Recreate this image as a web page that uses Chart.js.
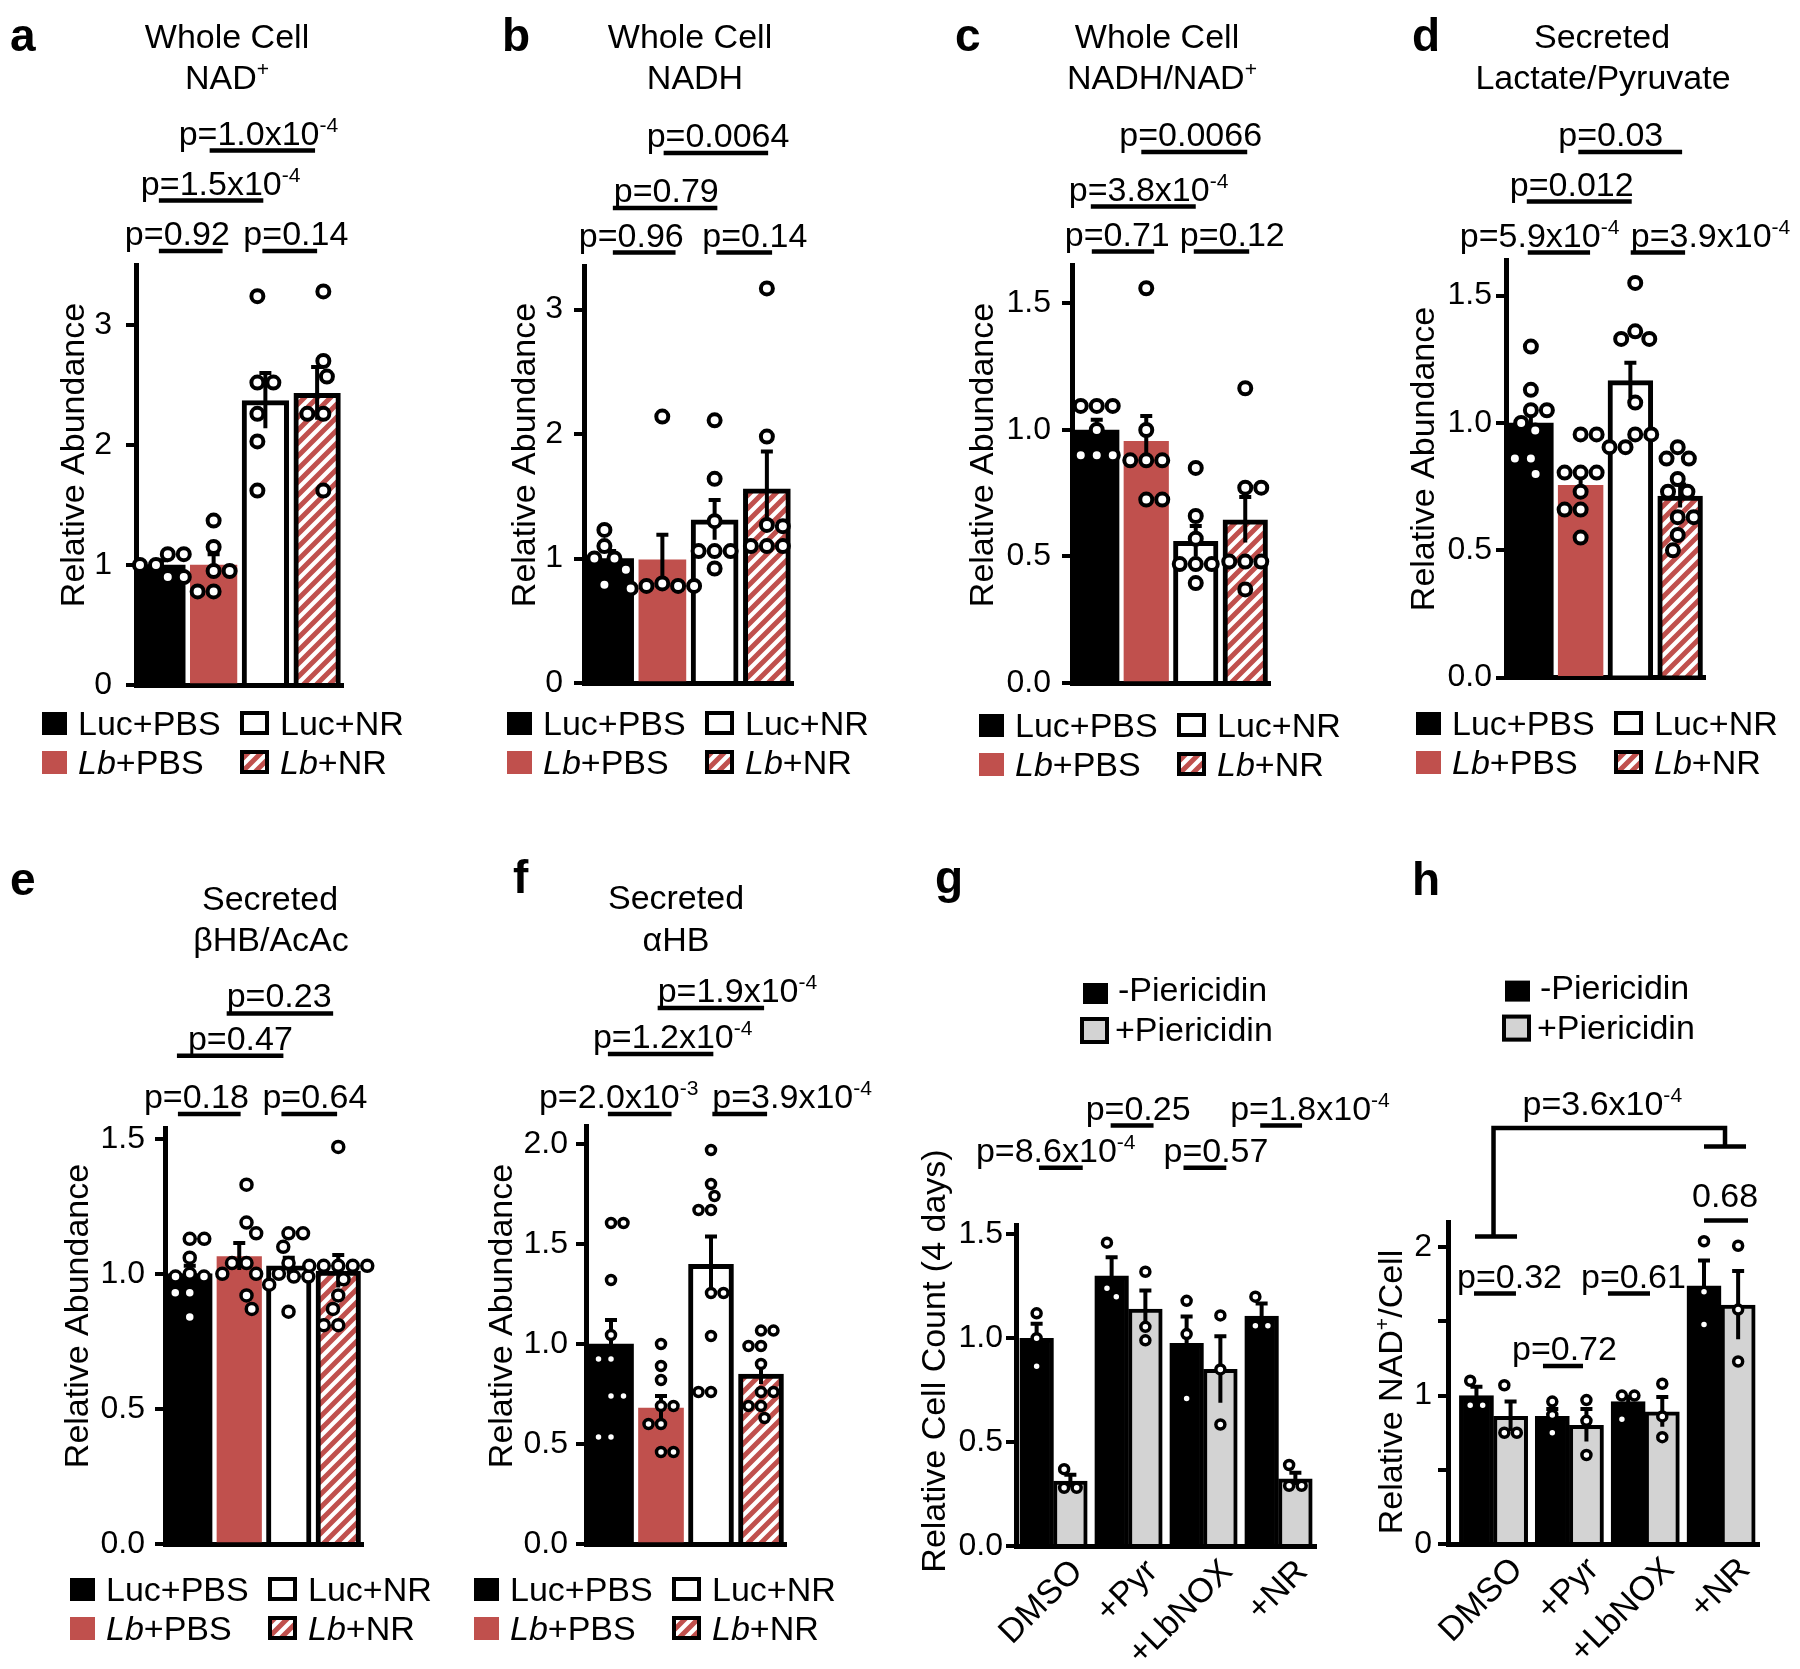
<!DOCTYPE html>
<html>
<head>
<meta charset="utf-8">
<script src="https://cdn.jsdelivr.net/npm/chart.js@4.4.1/dist/chart.umd.min.js"></script>
<style>
  html, body { margin: 0; padding: 0; background: #fff; }
  body { position: relative; width: 1800px; height: 1669px; overflow: hidden; }
  canvas { position: absolute; }
</style>
</head>
<body>
<canvas id="pa"></canvas>
<canvas id="pb"></canvas>
<canvas id="pc"></canvas>
<canvas id="pd"></canvas>
<canvas id="pe"></canvas>
<canvas id="pf"></canvas>
<canvas id="pg"></canvas>
<canvas id="ph"></canvas>
<script>
const FONT = '"Liberation Sans", Arial, Helvetica, sans-serif';
Chart.defaults.font.family = FONT;
Chart.defaults.font.size = 32;
Chart.defaults.color = '#000';

const RED = '#C0504D';
const GREY = '#D3D3D3';

// ---- data ----
const groups = ['Luc+PBS', '*Lb*+PBS', 'Luc+NR', '*Lb*+NR'];
const drugs = ['DMSO', '+Pyr', '+LbNOX', '+NR'];
const pierLabels = ['-Piericidin', '+Piericidin'];

// a: whole cell NAD+
const nadMean = [1.0, 1.0, 2.37, 2.43];
const nadSem = [0.04, 0.09, 0.23, 0.22];
const nadPts = [
  [1.09, 1.09, 1.0, 1.0, 0.9, 0.9],
  [1.37, 1.15, 0.95, 0.95, 0.78, 0.78],
  [3.24, 2.52, 2.52, 2.26, 2.03, 1.62],
  [3.28, 2.70, 2.57, 2.26, 2.26, 1.62]
];
const nadP = ['p=1.0x10^{-4}', 'p=1.5x10^{-4}', 'p=0.92', 'p=0.14'];

// b: whole cell NADH
const nadhMean = [1.0, 0.99, 1.31, 1.56];
const nadhSem = [0.06, 0.2, 0.16, 0.3];
const nadhPts = [
  [1.23, 1.1, 1.0, 1.0, 0.91, 0.79],
  [2.14, 0.8, 0.78, 0.78, 0.78, 0.76],
  [2.11, 1.64, 1.3, 1.06, 1.06, 1.06, 0.92],
  [3.17, 1.98, 1.27, 1.26, 1.1, 1.1, 1.1]
];
const nadhP = ['p=0.0064', 'p=0.79', 'p=0.96', 'p=0.14'];

// c: whole cell NADH/NAD+
const ratioMean = [1.0, 0.955, 0.56, 0.645];
const ratioSem = [0.04, 0.1, 0.06, 0.09];
const ratioPts = [
  [1.095, 1.095, 1.095, 1.0, 0.9, 0.9, 0.9],
  [1.56, 1.0, 0.88, 0.88, 0.88, 0.725, 0.725],
  [0.85, 0.66, 0.57, 0.47, 0.47, 0.47, 0.395],
  [1.165, 0.772, 0.772, 0.48, 0.48, 0.48, 0.37]
];
const ratioP = ['p=0.0066', 'p=3.8x10^{-4}', 'p=0.71', 'p=0.12'];

// d: secreted lactate/pyruvate
const lacMean = [1.0, 0.755, 1.166, 0.713];
const lacSem = [0.045, 0.045, 0.07, 0.045];
const lacPts = [
  [1.3, 1.13, 1.05, 1.05, 1.0, 0.97, 0.86, 0.86, 0.8],
  [0.955, 0.955, 0.805, 0.805, 0.805, 0.73, 0.66, 0.66, 0.55],
  [1.55, 1.36, 1.33, 1.33, 1.08, 0.955, 0.955, 0.905, 0.905],
  [0.905, 0.86, 0.86, 0.78, 0.73, 0.73, 0.63, 0.63, 0.56, 0.5]
];
const lacP = ['p=0.03', 'p=0.012', 'p=5.9x10^{-4}', 'p=3.9x10^{-4}'];

// e: secreted bHB/AcAc
const bhbMean = [1.0, 1.064, 1.03, 1.01];
const bhbSem = [0.03, 0.05, 0.03, 0.06];
const bhbPts = [
  [1.13, 1.13, 1.06, 1.0, 0.99, 0.99, 0.93, 0.93, 0.84],
  [1.33, 1.19, 1.15, 1.04, 1.04, 1.0, 1.0, 0.92, 0.87],
  [1.15, 1.15, 1.1, 1.04, 1.0, 0.99, 0.99, 0.96, 0.86],
  [1.47, 1.03, 1.03, 1.03, 1.03, 1.03, 0.98, 0.92, 0.87, 0.81, 0.81]
];
const bhbP = ['p=0.23', 'p=0.47', 'p=0.18', 'p=0.64'];

// f: secreted aHB
const ahbMean = [1.0, 0.68, 1.398, 0.85];
const ahbSem = [0.12, 0.06, 0.14, 0.05];
const ahbPts = [
  [1.605, 1.605, 1.32, 1.045, 0.925, 0.925, 0.74, 0.74, 0.535, 0.535],
  [1.0, 0.89, 0.82, 0.69, 0.69, 0.6, 0.6, 0.46, 0.46],
  [1.97, 1.8, 1.74, 1.67, 1.67, 1.255, 1.255, 1.04, 0.76, 0.76],
  [1.067, 1.067, 0.99, 0.99, 0.9, 0.76, 0.76, 0.69, 0.69, 0.63]
];
const ahbP = ['p=1.9x10^{-4}', 'p=1.2x10^{-4}', 'p=2.0x10^{-3}', 'p=3.9x10^{-4}'];

// g: relative cell count (4 days)
const countMinus = [1.0, 1.30, 0.975, 1.107];
const countMinusSem = [0.07, 0.09, 0.13, 0.06];
const countPlus = [0.313, 1.14, 0.85, 0.323];
const countPlusSem = [0.03, 0.09, 0.16, 0.03];
const countMinusPts = [[1.12, 1.0, 0.865], [1.46, 1.24, 1.2], [1.18, 1.02, 0.71], [1.2, 1.06, 1.06]];
const countPlusPts = [[0.37, 0.28, 0.28], [1.32, 1.055, 0.99], [1.11, 0.85, 0.585], [0.39, 0.29, 0.29]];
const countP = ['p=0.25', 'p=1.8x10^{-4}', 'p=8.6x10^{-4}', 'p=0.57'];

// h: relative NAD+/cell
const cellMinus = [1.0, 0.86, 0.96, 1.74];
const cellMinusSem = [0.06, 0.05, 0.03, 0.17];
const cellPlus = [0.86, 0.80, 0.89, 1.61];
const cellPlusSem = [0.1, 0.11, 0.1, 0.23];
const cellMinusPts = [[1.1, 0.935, 0.935], [0.96, 0.87, 0.75], [1.0, 1.0, 0.84], [2.04, 1.7, 1.48]];
const cellPlusPts = [[1.07, 0.75, 0.75], [0.97, 0.83, 0.6], [1.08, 0.86, 0.72], [2.01, 1.58, 1.23]];
const cellP = ['0.68', 'p=0.32', 'p=0.61', 'p=0.72'];
const cellBracketP = 'p=3.6x10^{-4}';

// ---- helpers ----
function parseRich(s) {
  const parts = [];
  const re = /\^\{([^}]*)\}|\*([^*]*)\*/g;
  let last = 0, m;
  while ((m = re.exec(s))) {
    if (m.index > last) parts.push([s.slice(last, m.index), '']);
    parts.push(m[1] !== undefined ? [m[1], 's'] : [m[2], 'i']);
    last = re.lastIndex;
  }
  if (last < s.length) parts.push([s.slice(last), '']);
  return parts;
}

function drawRich(ctx, s, x, y, size, align, bold) {
  const parts = parseRich(s);
  let w = 0;
  const segs = parts.map(([t, f]) => {
    const sz = f === 's' ? size * 0.62 : size;
    const font = (f === 'i' ? 'italic ' : '') + (bold ? 'bold ' : '') + sz + 'px ' + FONT;
    ctx.font = font;
    const seg = { t, font, x: w, dy: f === 's' ? -size * 0.38 : 0 };
    w += ctx.measureText(t).width;
    return seg;
  });
  const x0 = align === 'center' ? x - w / 2 : x;
  ctx.textAlign = 'left';
  ctx.textBaseline = 'alphabetic';
  segs.forEach(sg => { ctx.font = sg.font; ctx.fillText(sg.t, x0 + sg.x, y + sg.dy); });
}

// beeswarm offsets (px) so that circles don't overlap
function swarm(values, pxU, d) {
  const order = values.map((v, i) => i).sort((a, b) => values[b] - values[a]);
  const placed = [], off = [];
  for (const i of order) {
    const y = values[i] * pxU;
    const cands = [0];
    placed.forEach(p => {
      const dy = Math.abs(p.y - y);
      if (dy < d) { const dx = Math.sqrt(d * d - dy * dy); cands.push(p.x + dx, p.x - dx); }
    });
    const sum = placed.reduce((s, p) => s + p.x, 0);
    cands.sort((a, b) => (Math.abs(a) - Math.abs(b)) || (sum > 0 ? a - b : b - a));
    let x = 0;
    for (const c of cands) {
      if (placed.every(p => Math.hypot(p.x - c, p.y - y) >= d - 0.01)) { x = c; break; }
    }
    placed.push({ x, y });
    off[i] = x;
  }
  const mid = (Math.min(...off) + Math.max(...off)) / 2;
  return off.map(o => o - mid);
}

function hatchPattern(ctx) {
  const s = 13, c = document.createElement('canvas');
  c.width = s; c.height = s;
  const g = c.getContext('2d');
  g.fillStyle = '#fff'; g.fillRect(0, 0, s, s);
  g.strokeStyle = RED; g.lineWidth = 5;
  g.beginPath();
  g.moveTo(0, s); g.lineTo(s, 0);
  g.moveTo(-s / 2, s / 2); g.lineTo(s / 2, -s / 2);
  g.moveTo(s / 2, s * 1.5); g.lineTo(s * 1.5, s / 2);
  g.stroke();
  return ctx.createPattern(c, 'repeat');
}

function legendGroups(ctx, x0, b1, hatch) {
  const b2 = b1 + 39;
  ctx.fillStyle = '#000'; ctx.fillRect(x0, b1 - 23, 25, 23);
  ctx.fillStyle = RED; ctx.fillRect(x0, b2 - 23, 25, 23);
  [['#fff', b1], [hatch, b2]].forEach(([f, b]) => {
    ctx.fillStyle = f; ctx.fillRect(x0 + 198, b - 24, 29, 24);
    ctx.strokeStyle = '#000'; ctx.lineWidth = 4; ctx.strokeRect(x0 + 200, b - 22, 25, 20);
  });
  ctx.fillStyle = '#000';
  drawRich(ctx, groups[0], x0 + 36, b1, 34);
  drawRich(ctx, groups[1], x0 + 36, b2, 34);
  drawRich(ctx, groups[2], x0 + 238, b1, 34);
  drawRich(ctx, groups[3], x0 + 238, b2, 34);
}

function legendPier(ctx, x0, b1) {
  const b2 = b1 + 40;
  ctx.fillStyle = '#000'; ctx.fillRect(x0, b1 - 18, 25, 21);
  ctx.fillStyle = GREY; ctx.fillRect(x0 - 3, b2 - 24, 29, 27);
  ctx.strokeStyle = '#000'; ctx.lineWidth = 4; ctx.strokeRect(x0 - 1, b2 - 22, 25, 23);
  ctx.fillStyle = '#000';
  drawRich(ctx, pierLabels[0], x0 + 35, b1, 34);
  drawRich(ctx, pierLabels[1], x0 + 32, b2, 34);
}

function deco(cfg) {
  return {
    id: 'deco_' + cfg.id,
    afterDatasetDraw(chart, args) {
      const ds = chart.data.datasets[args.index];
      if (!ds.sem) return;
      const ctx = chart.ctx, ys = chart.scales.y;
      ctx.save();
      ctx.strokeStyle = '#000'; ctx.lineWidth = 4;
      args.meta.data.forEach((bar, i) => {
        const v = ds.data[i].y;
        const top = ys.getPixelForValue(v + ds.sem[i]);
        const bot = ys.getPixelForValue(v - ds.sem[i]);
        ctx.beginPath();
        ctx.moveTo(bar.x, bot); ctx.lineTo(bar.x, top);
        ctx.moveTo(bar.x - cfg.cap / 2, top); ctx.lineTo(bar.x + cfg.cap / 2, top);
        ctx.stroke();
      });
      ctx.restore();
    },
    afterDraw(chart) {
      const ctx = chart.ctx, xs = chart.scales.xs;
      ctx.save();
      ctx.fillStyle = '#000';
      drawRich(ctx, cfg.letter, cfg.letterPos[0], cfg.letterPos[1], 46, 'left', true);
      (cfg.title || []).forEach((t, k) => drawRich(ctx, t, cfg.titlePos[k][0], cfg.titlePos[k][1], 34, 'center'));
      ctx.save();
      ctx.translate(cfg.yTitlePos[0], cfg.yTitlePos[1]);
      ctx.rotate(-Math.PI / 2);
      drawRich(ctx, cfg.yLabel, 0, 12, 34, 'center');
      ctx.restore();
      ctx.strokeStyle = '#000'; ctx.lineWidth = 4.5;
      cfg.pText.forEach((t, k) => {
        const [i1, i2, ly, dx, dy = -6] = cfg.pPos[k];
        const x1 = xs.getPixelForValue(i1), x2 = xs.getPixelForValue(i2);
        ctx.beginPath(); ctx.moveTo(x1, ly); ctx.lineTo(x2, ly); ctx.stroke();
        drawRich(ctx, t, x1 + dx, ly + dy, 34, 'left');
      });
      cfg.legend(ctx);
      if (cfg.extra) cfg.extra(chart, ctx);
      ctx.restore();
    }
  };
}

function makePanel(cfg) {
  const cv = document.getElementById(cfg.id);
  cv.width = cfg.w; cv.height = cfg.h;
  cv.style.left = cfg.x + 'px'; cv.style.top = cfg.y + 'px';
  const ctx = cv.getContext('2d');
  const gap = cfg.gap || 0;
  const catPx = (cfg.right - cfg.left) / (4 + gap);
  const pxU = (cfg.bottom - cfg.top) / cfg.max;
  const diam = 2 * cfg.r + cfg.bw;
  const hatch = hatchPattern(ctx);
  cfg.hatch = hatch;
  const series = cfg.series(hatch);
  const paired = series.length === 2;
  const datasets = [], pts = [];
  series.forEach((s, k) => {
    const shift = paired ? (k === 0 ? -0.225 : 0.225) : 0;
    datasets.push({
      type: 'bar', data: s.mean.map((v, i) => ({ x: i + shift, y: v })), sem: s.sem,
      xAxisID: 'xb', yAxisID: 'y', order: 2, grouped: false,
      backgroundColor: s.fill, borderColor: '#000', borderWidth: s.border,
      barThickness: (paired ? 0.45 : 0.9) * catPx
    });
    s.pts.forEach((vals, i) => {
      const off = swarm(vals, pxU, diam);
      vals.forEach((v, j) => pts.push({ x: i + shift + off[j] / catPx, y: v }));
    });
  });
  datasets.push({
    type: 'scatter', data: pts, xAxisID: 'xs', yAxisID: 'y', order: 1, clip: false,
    pointRadius: cfg.r, pointHoverRadius: cfg.r, pointBorderWidth: cfg.bw,
    pointBackgroundColor: '#fff', pointBorderColor: '#000'
  });
  const hidden = () => ({ type: 'linear', display: false, offset: false, bounds: 'data', min: -0.5 - gap, max: 3.5, ticks: { stepSize: 1, includeBounds: false } });
  new Chart(ctx, {
    type: 'bar',
    data: { labels: cfg.labels, datasets },
    options: {
      responsive: false, animation: false, events: [],
      layout: { padding: { left: 0, top: cfg.top, right: cfg.w - cfg.right, bottom: 0 } },
      plugins: { legend: { display: false }, tooltip: { enabled: false } },
      scales: {
        x: {
          type: 'category', offset: true, position: 'bottom',
          grid: { display: false, drawTicks: false },
          border: { display: true, color: '#000', width: 5 },
          ticks: cfg.xTicks ? { display: true, autoSkip: false, minRotation: 45, maxRotation: 45, font: { size: 34 }, color: '#000', padding: 6, labelOffset: 24 } : { display: false },
          afterBuildTicks: s => { if (gap) { s._startValue -= gap; s._valueRange += gap; } },
          afterFit: s => { s.height = cfg.h - cfg.bottom; }
        },
        xb: hidden(),
        xs: hidden(),
        y: {
          type: 'linear', position: 'left', min: 0, max: cfg.max, bounds: 'data',
          border: { display: true, color: '#000', width: 5 },
          grid: { display: true, drawOnChartArea: false, drawTicks: true, tickLength: 10, lineWidth: 4, color: '#000' },
          ticks: {
            stepSize: cfg.step, includeBounds: false, autoSkip: false, padding: cfg.tickPad,
            font: { size: 32 }, color: '#000',
            callback: v => cfg.intOnly ? (Math.abs(v - Math.round(v)) < 1e-6 ? String(Math.round(v)) : '') : v.toFixed(cfg.dec)
          },
          afterFit: s => { s.width = cfg.left; }
        }
      }
    },
    plugins: [deco(cfg)]
  });
}

const singleFill = hatch => ['#000', RED, '#fff', hatch];
const singleBorder = [0, 0, 5, 5];
const one = (mean, sem, pts) => hatch => [{ mean, sem, pts, fill: singleFill(hatch), border: singleBorder }];
const two = (m1, s1, p1, m2, s2, p2) => () => [
  { mean: m1, sem: s1, pts: p1, fill: '#000', border: 4 },
  { mean: m2, sem: s2, pts: p2, fill: GREY, border: 4 }
];

const panels = [
  { id: 'pa', x: 0, y: 0, w: 450, h: 800, left: 136, right: 343, top: 265, bottom: 685, max: 3.5, step: 1, dec: 0, tickPad: 14,
    r: 6, bw: 4, cap: 12, labels: groups, series: one(nadMean, nadSem, nadPts),
    letter: 'a', letterPos: [10, 51], title: ['Whole Cell', 'NAD^{+}'], titlePos: [[227, 48], [227, 89]],
    yLabel: 'Relative Abundance', yTitlePos: [72, 455],
    pText: nadP, pPos: [[0.923, 2.96, 150.5, -31], [-0.058, 1.96, 200.5, -18], [-0.058, 1.173, 251, -34], [1.942, 3.0, 251, -19]],
    legend: function (ctx) { legendGroups(ctx, 42, 735, this.hatch); } },
  { id: 'pb', x: 450, y: 0, w: 450, h: 800, left: 134, right: 343, top: 266, bottom: 683, max: 3.35, step: 1, dec: 0, tickPad: 11,
    r: 6, bw: 4, cap: 12, labels: groups, series: one(nadhMean, nadhSem, nadhPts),
    letter: 'b', letterPos: [52, 51], title: ['Whole Cell', 'NADH'], titlePos: [[240, 48], [245, 89]],
    yLabel: 'Relative Abundance', yTitlePos: [73, 455],
    pText: nadhP, pPos: [[1.024, 3.024, 153, -17], [0.052, 2.052, 208, 1], [0.052, 1.252, 252.5, -34], [2.033, 3.1, 252.5, -14]],
    legend: function (ctx) { legendGroups(ctx, 57, 735, this.hatch); } },
  { id: 'pc', x: 900, y: 0, w: 450, h: 800, left: 172, right: 370, top: 265.5, bottom: 683, max: 1.65, step: 0.5, dec: 1, tickPad: 11,
    r: 6, bw: 4, cap: 12, labels: groups, series: one(ratioMean, ratioSem, ratioPts),
    letter: 'c', letterPos: [55, 51], title: ['Whole Cell', 'NADH/NAD^{+}'], titlePos: [[257, 48], [262, 89]],
    yLabel: 'Relative Abundance', yTitlePos: [81, 455],
    pText: ratioP, pPos: [[0.9, 3.04, 152, -22], [-0.12, 2.0, 206.6, -22], [-0.1, 1.16, 251.5, -27], [1.96, 3.08, 251.5, -14]],
    legend: function (ctx) { legendGroups(ctx, 79, 737, this.hatch); } },
  { id: 'pd', x: 1350, y: 0, w: 450, h: 800, left: 156, right: 355, top: 260, bottom: 677.6, max: 1.64, step: 0.5, dec: 1, tickPad: 4,
    r: 6, bw: 4, cap: 12, labels: groups, series: one(lacMean, lacSem, lacPts),
    letter: 'd', letterPos: [62, 51], title: ['Secreted', 'Lactate/Pyruvate'], titlePos: [[252, 48], [253, 89]],
    yLabel: 'Relative Abundance', yTitlePos: [72, 459],
    pText: lacP, pPos: [[0.953, 3.04, 152, -20], [-0.082, 2.027, 201.5, -17], [-0.062, 1.19, 252.5, -68], [2.007, 3.1, 252.5, 0]],
    legend: function (ctx) { legendGroups(ctx, 66, 735, this.hatch); } },
  { id: 'pe', x: 0, y: 840, w: 450, h: 829, left: 165, right: 363, top: 288, bottom: 704, max: 1.54, step: 0.5, dec: 1, tickPad: 10,
    r: 5.5, bw: 3.5, cap: 12, labels: groups, series: one(bhbMean, bhbSem, bhbPts),
    letter: 'e', letterPos: [10, 55], title: ['Secreted', 'βHB/AcAc'], titlePos: [[270, 70], [271, 111]],
    yLabel: 'Relative Abundance', yTitlePos: [76, 476],
    pText: bhbP, pPos: [[0.746, 2.897, 173.4, 0], [-0.259, 1.892, 215.7, 11], [-0.239, 1.028, 274, -34], [1.852, 2.977, 274, -19]],
    legend: function (ctx) { legendGroups(ctx, 70, 761, this.hatch); } },
  { id: 'pf', x: 450, y: 840, w: 450, h: 829, left: 136, right: 336, top: 286, bottom: 704, max: 2.09, step: 0.5, dec: 1, tickPad: 8,
    r: 4.5, bw: 3.5, cap: 12, labels: groups, series: one(ahbMean, ahbSem, ahbPts),
    letter: 'f', letterPos: [63, 53], title: ['Secreted', 'αHB'], titlePos: [[226, 69], [226, 111]],
    yLabel: 'Relative Abundance', yTitlePos: [50, 476],
    pText: ahbP, pPos: [[0.933, 3.062, 168, 0], [-0.062, 2.047, 214, -15], [-0.062, 1.211, 274, -69], [2.027, 3.122, 274, 0]],
    legend: function (ctx) { legendGroups(ctx, 24, 761, this.hatch); } },
  { id: 'pg', x: 900, y: 840, w: 500, h: 829, left: 116, right: 416, top: 385, bottom: 706, max: 1.545, step: 0.5, dec: 1, tickPad: 3,
    r: 4.5, bw: 3.5, cap: 12, labels: drugs, xTicks: true,
    series: two(countMinus, countMinusSem, countMinusPts, countPlus, countPlusSem, countPlusPts),
    letter: 'g', letterPos: [35, 53],
    yLabel: 'Relative Cell Count (4 days)', yTitlePos: [33, 521],
    pText: countP, pPos: [[0.762, 1.334, 285.5, -25], [2.756, 3.314, 285.5, -30], [-0.194, 0.39, 327.8, -63], [1.733, 2.304, 327.8, -20]],
    legend: ctx => legendPier(ctx, 183, 161) },
  { id: 'ph', x: 1350, y: 840, w: 450, h: 829, left: 98, right: 409, gap: 0.1, top: 382, bottom: 704, max: 2.17, step: 0.5, intOnly: true, tickPad: 6,
    r: 4.5, bw: 3.5, cap: 12, labels: drugs, xTicks: true,
    series: two(cellMinus, cellMinusSem, cellMinusPts, cellPlus, cellPlusSem, cellPlusPts),
    letter: 'h', letterPos: [62, 55],
    yLabel: 'Relative NAD^{+}/Cell', yTitlePos: [40, 552],
    pText: cellP, pPos: [[2.775, 3.355, 380.6, -12, -14], [-0.257, 0.296, 453.6, -17], [1.509, 2.063, 453.6, -27], [0.652, 1.18, 526, -31]],
    legend: ctx => legendPier(ctx, 155, 158.6),
    extra: (chart, ctx) => {
      const xs = chart.scales.xs;
      const xl = xs.getPixelForValue(0), xr = xs.getPixelForValue(3.052);
      ctx.strokeStyle = '#000'; ctx.lineWidth = 4.5;
      ctx.beginPath();
      ctx.moveTo(xl, 396.5); ctx.lineTo(xl, 288); ctx.lineTo(xr, 288); ctx.lineTo(xr, 306.6);
      ctx.moveTo(xs.getPixelForValue(-0.244), 396.5); ctx.lineTo(xs.getPixelForValue(0.31), 396.5);
      ctx.moveTo(xs.getPixelForValue(2.775), 306.6); ctx.lineTo(xs.getPixelForValue(3.329), 306.6);
      ctx.stroke();
      drawRich(ctx, cellBracketP, xl + 29, 275, 34, 'left');
    } }
];

panels.forEach(makePanel);
</script>
</body>
</html>
